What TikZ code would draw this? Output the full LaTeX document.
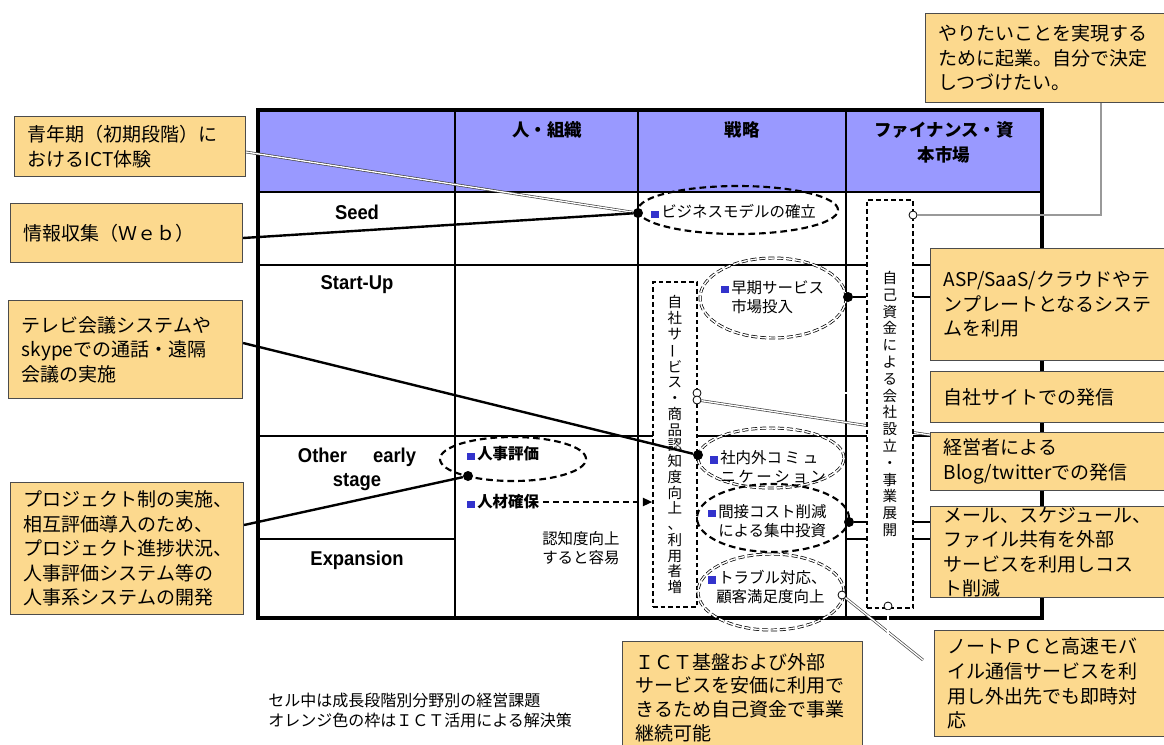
\documentclass[tikz,border=0pt]{standalone}
\usepackage{fontspec}
\setmainfont{Noto Sans CJK JP}
\newfontfamily\stagefont[FakeStretch=0.92]{Liberation Sans}
\usetikzlibrary{shapes.geometric,arrows.meta}
\definecolor{hdr}{RGB}{153,153,255}
\definecolor{cofill}{RGB}{252,217,142}
\definecolor{sqc}{RGB}{51,51,204}
\newcommand\sqm{\textcolor{sqc}{\rule{5.5pt}{5.5pt}}\hspace{2pt}}
\newcommand\vbar{\rotatebox[origin=c]{90}{ー}}
\pgfdeclarelayer{bg}
\pgfsetlayers{bg,main}
\begin{document}
\begin{tikzpicture}[x=0.75pt,y=-0.75pt,
  cbox/.style={draw=black!70, line width=0.8pt, fill=cofill, anchor=north west,
    inner xsep=10pt, inner ysep=0pt, align=left,
    font=\fontsize{14.25pt}{18.4pt}\selectfont},
  gridline/.style={line width=1.4pt},
  stage/.style={font=\stagefont\bfseries\fontsize{15pt}{18pt}\selectfont, align=center, inner sep=0pt},
  hdrtxt/.style={font=\bfseries\fontsize{13.1pt}{18.75pt}\selectfont, align=center, inner sep=0pt},
  ttext/.style={font=\fontsize{11.6pt}{14.25pt}\selectfont, align=left, anchor=west, inner sep=0pt},
  dell/.style={ellipse, draw, line width=1.6pt, dash pattern=on 5pt off 3pt, inner sep=0pt},
  hell/.style={ellipse, draw, line width=0.55pt, double=white, double distance=1.1pt,
    dash pattern=on 4.5pt off 2.2pt, inner sep=0pt},
  drect/.style={rectangle, draw, fill=white, line width=1.1pt, dash pattern=on 3.5pt off 2.2pt,
    inner sep=0pt, align=center},
  dot/.style={circle, fill=black, inner sep=0pt, minimum size=7.5pt},
  ring/.style={circle, draw, fill=white, line width=0.6pt, inner sep=0pt, minimum size=6pt},
  bline/.style={line width=1.8pt},
  dbl/.style={draw=black!75, line width=0.5pt, double=white, double distance=1pt},
  dblg/.style={draw=black!60, line width=0.5pt, double=black!40, double distance=1.2pt}
]
\useasboundingbox (0,0) rectangle (1164,744);

% ---------- dashed rectangles ----------
\node[drect, minimum width=33pt, minimum height=243.75pt,
  font=\fontsize{10.9pt}{11.8pt}\selectfont] (svc) at (675,444.5)
  {自\\社\\サ\\\vbar\\ビ\\ス\\・\\商\\品\\認\\知\\度\\向\\上\\、\\利\\用\\者\\増};
\node[drect, minimum width=34.5pt, minimum height=306pt,
  font=\fontsize{10.9pt}{12.6pt}\selectfont] (fin) at (890,404)
  {自\\己\\資\\金\\に\\よ\\る\\会\\社\\設\\立\\・\\事\\業\\展\\開};

% ---------- table (background layer) ----------
\begin{pgfonlayer}{bg}
  \fill[hdr] (258,110) rectangle (1042,192);
  \draw[gridline] (258,192) -- (1042,192);
  \draw[gridline] (258,265) -- (1042,265);
  \draw[gridline] (258,436) -- (1042,436);
  \draw[gridline] (258,539) -- (455,539);
  \draw[gridline] (846,539) -- (1042,539);
  \draw[gridline] (455,110) -- (455,618);
  \draw[gridline] (638,110) -- (638,618);
  \draw[gridline] (846,110) -- (846,618);
  \draw[line width=3pt] (258,110) rectangle (1042,618);
\end{pgfonlayer}

% ---------- ellipses ----------
\node[dell, minimum width=150pt, minimum height=36pt] (eBiz) at (738,210) {};
\node[hell, minimum width=109.5pt, minimum height=60pt] (eEarly) at (773,298) {};
\node[dell, minimum width=109.5pt, minimum height=33pt] (eHR) at (513,459) {};
\node[hell, minimum width=109.5pt, minimum height=45pt] (eComm) at (771,458) {};
\node[dell, minimum width=114pt, minimum height=51pt] (eCost) at (773,518) {};
\node[hell, minimum width=109.5pt, minimum height=57pt] (eTrb) at (771,592) {};

% ---------- header and stage texts ----------
\node[hdrtxt] (h1) at (547,130) {人・組織};
\node[hdrtxt] (h2) at (742,130) {戦略};
\node[hdrtxt] (h3) at (944,142) {ファイナンス・資\\本市場};
\node[stage] (s1) at (357,212) {Seed};
\node[stage] (s2) at (357,285) {Start-Up};
\node[stage] (s3) at (357,469) {Other\hspace{1.3em}early\\stage};
\node[stage] (s4) at (357,560) {Expansion};

% ---------- cell texts ----------
\node[ttext] (tBiz) at (651,212) {\sqm ビジネスモデルの確立};
\node[ttext] (tEarly) at (721,297) {\sqm 早期サービス\\\hspace{7.5pt}市場投入};
\node[ttext, font=\bfseries\fontsize{11.6pt}{14.25pt}\selectfont] (tHR) at (467,454) {\sqm 人事評価};
\node[ttext, font=\bfseries\fontsize{11.6pt}{14.25pt}\selectfont] (tJin) at (467,502) {\sqm 人材確保};
\node[ttext] (tComm) at (710,467) {\sqm 社内外コ\,ミ\,ュ\\\hspace{7.5pt}ニ\,ケ\,ー\,シ\,ョ\,ン};
\node[ttext] (tCost) at (708,521) {\sqm 間接コスト削減\\\hspace{7.5pt}による集中投資};
\node[ttext] (tTrb) at (708,587) {\sqm トラブル対応、\\\hspace{6pt}顧客満足度向上};
\node[ttext] (tEase) at (542,548) {認知度向上\\すると容易};
\node[anchor=west, align=left, inner sep=0pt, font=\fontsize{12pt}{15pt}\selectfont] (note) at (268,710)
  {セル中は成長段階別分野別の経営課題\\オレンジ色の枠はＩＣＴ活用による解決策};

% ---------- connector end markers ----------
\node[dot] (dBiz) at (638,213) {};
\node[dot] (dEarly) at (848,297) {};
\node[dot] (dHR) at (468,476) {};
\node[dot] (dComm) at (698,455) {};
\node[dot] (dCost) at (849,522) {};
\node[ring] (oFin1) at (913,215) {};
\node[ring] (oSvc1) at (697,393) {};
\node[ring] (oSvc2) at (697,400) {};
\node[ring] (oTrb) at (842,595) {};
\node[ring] (oFin2) at (888,606) {};
\coordinate (jEnd) at (923,660);

% ---------- callout boxes ----------
\node[cbox, text width=153.25pt, minimum height=45pt] (cA) at (14,116) {青年期（初期段階）に\\おけるICT体験};
\node[cbox, text width=154pt, minimum height=44.25pt] (cB) at (10,203) {情報収集（Ｗｅｂ）};
\node[cbox, text width=155.5pt, minimum height=73.5pt] (cC) at (8,300) {テレビ会議システムや\\skypeでの通話・遠隔\\会議の実施};
\node[cbox, text width=154.75pt, minimum height=99pt] (cD) at (10,482) {プロジェクト制の実施、\\相互評価導入のため、\\プロジェクト進捗状況、\\人事評価システム等の\\人事系システムの開発};
\node[cbox, text width=163.75pt, minimum height=66.75pt] (cE) at (925,13) {やりたいことを実現する\\ために起業。自分で決定\\しつづけたい。};
\node[cbox, text width=160pt, minimum height=84pt] (cF) at (930,248) {ASP/SaaS/クラウドやテ\\ンプレートとなるシステ\\ムを利用};
\node[cbox, text width=160pt, minimum height=38.25pt] (cG) at (930,371) {自社サイトでの発信};
\node[cbox, text width=160pt, minimum height=43.5pt] (cH) at (930,432) {経営者による\\Blog/twitterでの発信};
\node[cbox, text width=160pt, minimum height=68.25pt] (cI) at (930,506) {メール、スケジュール、\\ファイル共有を外部\\サービスを利用しコス\\ト削減};
\node[cbox, text width=157pt, minimum height=79.5pt] (cJ) at (934,630) {ノートＰＣと高速モバ\\イル通信サービスを利\\用し外出先でも即時対\\応};
\node[cbox, text width=160pt, minimum height=84pt, font=\fontsize{14.25pt}{17.8pt}\selectfont] (cK) at (622,641) {ＩＣＴ基盤および外部\\サービスを安価に利用で\\きるため自己資金で事業\\継続可能};

% ---------- connectors under the finance rectangle ----------
\begin{pgfonlayer}{bg}
  \draw[dbl] (cG.west |- oSvc1) -- (oSvc1);
  \draw[dbl] (cH.west |- 0,435) -- (oSvc2);
\end{pgfonlayer}

% ---------- connectors ----------
\draw[dbl] (cA.east |- 0,152) -- (dBiz);
\draw[bline] (cB.east |- 0,238) -- (dBiz);
\draw[bline] (cC.east |- 0,343) -- (dComm);
\draw[bline] (cD.east |- 0,525) -- (dHR);
\draw[line width=1.5pt, dash pattern=on 4.5pt off 3pt, -{Triangle[length=7pt,width=6pt]}, shorten <=3pt]
  (tJin) -- (svc.west |- tJin);
\draw[dblg] (cE.south -| 1101,0) |- (oFin1);
\draw[bline] (dEarly) -- (fin.west |- dEarly);
\draw[line width=1.2pt] (fin.east |- dEarly) -- (cF.west |- dEarly);
\draw[bline] (dCost) -- (fin.west |- dCost);
\draw[line width=1.2pt] (fin.east |- dCost) -- (cI.west |- dCost);
\draw[dbl] (oTrb) -- (jEnd);
\draw[dbl] (cK.east |- 0,684) -| (oFin2);
\end{tikzpicture}
\end{document}
